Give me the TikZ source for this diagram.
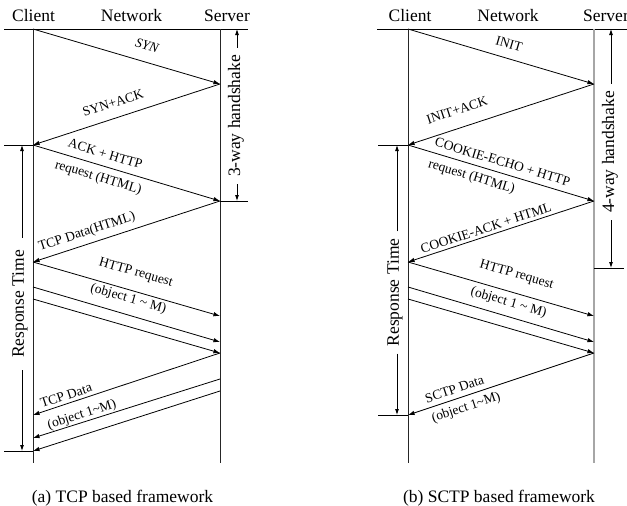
\documentclass[tikz,border=0pt]{standalone}
\usepackage{fontspec}
\setmainfont{Liberation Serif}
\usetikzlibrary{arrows.meta}
\begin{document}
\begin{tikzpicture}[x=1pt,y=-1pt,
  lifeline/.style={black!85,line width=1pt},
  msg/.style={line width=0.8pt,-{Latex[length=6.5pt,width=4.5pt]}},
  rulebar/.style={line width=0.8pt},
  head/.style={font=\fontsize{17.5}{20}\selectfont,anchor=base,inner sep=0pt},
  lbl/.style={font=\fontsize{13.5}{16}\selectfont,inner sep=0pt},
  vlab/.style={font=\fontsize{17.5}{20}\selectfont,rotate=90,inner sep=7pt},
  dim/.style={line width=0.8pt,-{Latex[length=6pt,width=4pt]}},
  capt/.style={font=\fontsize{17.5}{20}\selectfont,anchor=base,inner sep=0pt}
]
\useasboundingbox (0,0) rectangle (627,506);

% ---------------- (a) TCP ----------------
\node[head] (hcA) at (33.5,21.5) {Client};
\node[head] (hnA) at (131.5,21.5) {Network};
\node[head] (hsA) at (227,21.5) {Server};
\coordinate (topLA) at (4,29);
\coordinate (topRA) at (248,29);
\draw[rulebar] (topLA) -- (topRA);

\coordinate (cA0) at (33,29);   \coordinate (cAend) at (33,463);
\coordinate (sA0) at (220,29);  \coordinate (sAend) at (220,463);
\draw[lifeline] (cA0) -- (cAend);
\draw[lifeline] (sA0) -- (sAend);

\coordinate (sA1) at (220,84);
\coordinate (cA2) at (33,145);
\coordinate (sA2) at (220,201);
\coordinate (cA3) at (33,262);
\coordinate (sA3) at (220,316);
\coordinate (cA4) at (33,287);  \coordinate (sA4) at (220,342);
\coordinate (cA5) at (33,299);  \coordinate (sA5) at (220,353);
\coordinate (cA6) at (33,415);
\coordinate (sA6) at (220,379); \coordinate (cA7) at (33,438);
\coordinate (sA7) at (220,391); \coordinate (cA8) at (33,451);

\draw[msg] (cA0) -- (sA1);
\draw[msg] (sA1) -- (cA2);
\draw[msg] (cA2) -- (sA2);
\draw[msg] (sA2) -- (cA3);
\draw[msg] (cA3) -- (sA3);
\draw[msg] (cA4) -- (sA4);
\draw[msg] (cA5) -- (sA5);
\draw[msg] (sA5) -- (cA6);
\draw[msg] (sA6) -- (cA7);
\draw[msg] (sA7) -- (cA8);

\node[lbl,rotate=-16.4] (lA1) at (147,46) {\itshape SYN};
\node[lbl,rotate=18.1] (lA2) at (113,103) {SYN+ACK};
\node[lbl,rotate=-16.7,align=center] (lA3) at (101.5,166.5) {ACK + HTTP\\[8pt]request (HTML)};
\node[lbl,rotate=18.1] (lA4) at (87,232) {TCP Data(HTML)};
\node[lbl,rotate=-16.1,align=center] (lA5) at (132,286) {HTTP request\\[11pt](object 1 \textasciitilde{} M)};
\node[lbl,rotate=18.3,align=left] (lA6) at (78.5,404.5) {TCP Data\\[6.5pt](object 1\textasciitilde M)};

% response-time span and handshake span
\coordinate (tkA1L) at (4,145);
\coordinate (tkA2L) at (4,451);
\coordinate (tkA3R) at (248,201);
\draw[rulebar] (tkA1L) -- (cA2);
\draw[rulebar] (tkA2L) -- (cA8);
\draw[rulebar] (sA2) -- (tkA3R);

\node[vlab,inner sep=12pt] (rtA) at (20,304) {Response Time};
\coordinate (rtAtop) at (22,145);
\coordinate (rtAbot) at (22,451);
\draw[dim] (rtA.east -| rtAtop) -- (rtAtop);
\draw[dim] (rtA.west -| rtAbot) -- (rtAbot);

\node[vlab] (hsA3) at (236,116) {3-way handshake};
\coordinate (hsA3top) at (237,29);
\coordinate (hsA3bot) at (237,201);
\draw[dim] (hsA3.east -| hsA3top) -- (hsA3top);
\draw[dim] (hsA3.west -| hsA3bot) -- (hsA3bot);

\node[capt] (capA) at (122.5,502.5) {(a) TCP based framework};

% ---------------- (b) SCTP ----------------
\node[head] (hcB) at (410,21.5) {Client};
\node[head] (hnB) at (508,21.5) {Network};
\node[head] (hsB) at (606,21.5) {Server};
\coordinate (topLB) at (377,29);
\coordinate (topRB) at (627,29);
\draw[rulebar] (topLB) -- (topRB);

\coordinate (cB0) at (408,29);  \coordinate (cBend) at (408,463);
\coordinate (sB0) at (594,29);  \coordinate (sBend) at (594,463);
\draw[lifeline] (cB0) -- (cBend);
\draw[gray!70,line width=1.3pt] (sB0) -- (sBend);

\coordinate (sB1) at (594,84);
\coordinate (cB2) at (408,145);
\coordinate (sB2) at (594,201);
\coordinate (cB3) at (408,262);
\coordinate (sB3) at (594,316);
\coordinate (cB4) at (408,287); \coordinate (sB4) at (594,342);
\coordinate (cB5) at (408,299); \coordinate (sB5) at (594,353);
\coordinate (cB6) at (408,415);

\draw[msg] (cB0) -- (sB1);
\draw[msg] (sB1) -- (cB2);
\draw[msg] (cB2) -- (sB2);
\draw[msg] (sB2) -- (cB3);
\draw[msg] (cB3) -- (sB3);
\draw[msg] (cB4) -- (sB4);
\draw[msg] (cB5) -- (sB5);
\draw[msg] (sB5) -- (cB6);

\node[lbl,rotate=-16.5] (lB1) at (509,44) {INIT};
\node[lbl,rotate=18.2] (lB2) at (457,110) {INIT+ACK};
\node[lbl,rotate=-16.8,align=left] (lB3) at (499,174) {COOKIE-ECHO + HTTP\\[6.3pt]request (HTML)};
\node[lbl,rotate=18.2] (lB4) at (486,228) {COOKIE-ACK + HTML};
\node[lbl,rotate=-16.2,align=center] (lB5) at (512.5,289) {HTTP request\\[13pt](object 1 \textasciitilde{} M)};
\node[lbl,rotate=18.4,align=left] (lB6) at (463,398.5) {SCTP Data\\[4.3pt](object 1\textasciitilde M)};

\coordinate (tkB1L) at (378,145);
\coordinate (tkB2L) at (378,415);
\coordinate (tkB3R) at (624,268);
\coordinate (sBtk) at (594,268);
\draw[rulebar] (tkB1L) -- (cB2);
\draw[rulebar] (tkB2L) -- (cB6);
\draw[rulebar] (sBtk) -- (tkB3R);

\node[vlab] (rtB) at (395,292.5) {Response Time};
\coordinate (rtBtop) at (397,145);
\coordinate (rtBbot) at (397,415);
\draw[dim] (rtB.east -| rtBtop) -- (rtBtop);
\draw[dim] (rtB.west -| rtBbot) -- (rtBbot);

\node[vlab] (hsB4) at (610,152) {4-way handshake};
\coordinate (hsB4top) at (611,29);
\coordinate (hsB4bot) at (611,268);
\draw[dim] (hsB4.east -| hsB4top) -- (hsB4top);
\draw[dim] (hsB4.west -| hsB4bot) -- (hsB4bot);

\node[capt] (capB) at (499,502.5) {(b) SCTP based framework};
\end{tikzpicture}
\end{document}
